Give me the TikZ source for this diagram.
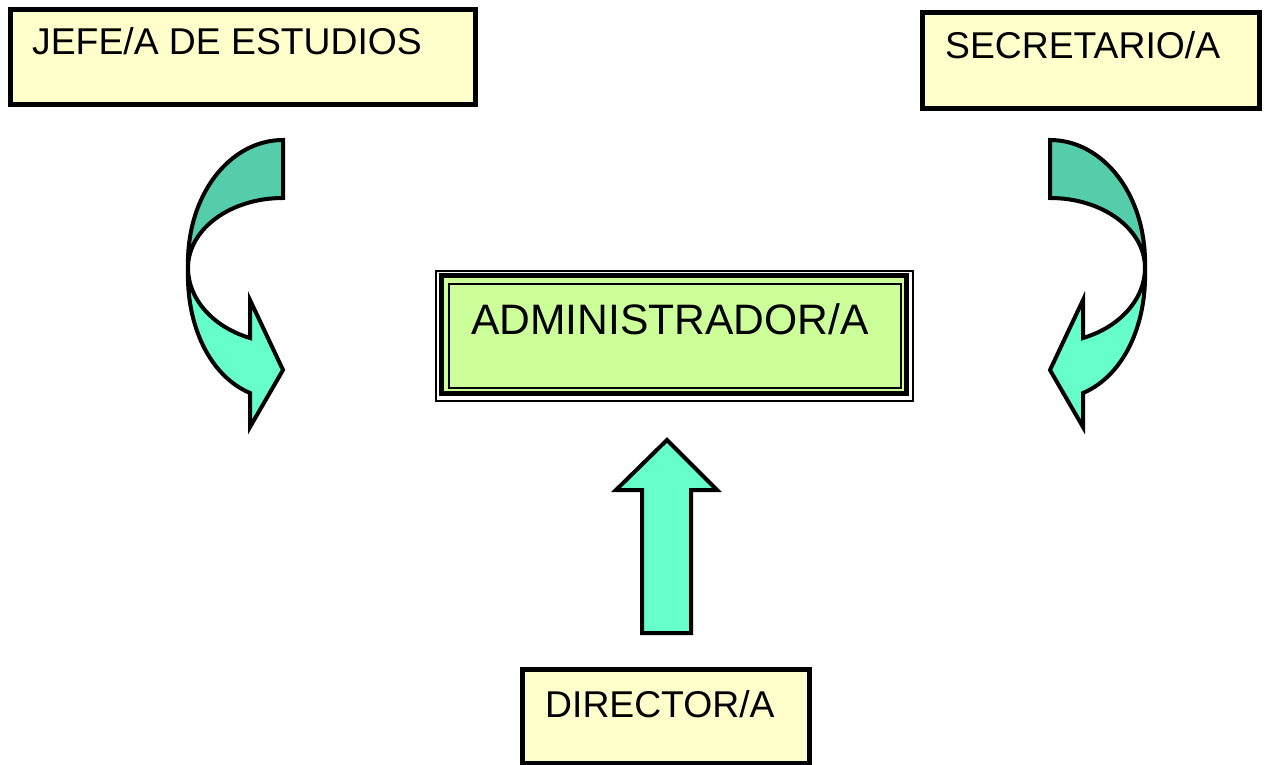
\documentclass[tikz,border=0pt]{standalone}
\usepackage{fontspec}
\setmainfont{Liberation Sans}
\definecolor{boxyellow}{HTML}{FFFFCC}
\definecolor{admingreen}{HTML}{CCFF99}
\definecolor{banddark}{HTML}{55CCAA}
\definecolor{bandlight}{HTML}{66FFCC}
\newcommand\CurvArrowShape{%
  \path[banddarkstyle] (283,140) -- (283,198) .. controls (230.5,198) and (188,229) .. (188,268)
     .. controls (186,195) and (230,140) .. (283,140) -- cycle;
  \path[bandlightstyle] (188,268) .. controls (186,326) and (210,376) .. (250,393)
     -- (250,427) -- (283,370) -- (250,300) -- (250,338)
     .. controls (213,327) and (188,299) .. (188,268) -- cycle;
}
\begin{document}
\begin{tikzpicture}[x=1pt,y=-1pt,
  rolebox/.style={draw=black,line width=5pt,fill=boxyellow,inner sep=0pt},
  roletext/.style={anchor=base west,inner sep=0pt,font=\fontsize{37.3}{44}\selectfont},
  banddarkstyle/.style={draw=black,line width=4pt,fill=banddark,line join=miter},
  bandlightstyle/.style={draw=black,line width=4pt,fill=bandlight,line join=miter},
  uparrowstyle/.style={draw=black,line width=4pt,fill=bandlight,line join=miter}]
\useasboundingbox[fill=white] (0,0) rectangle (1264,765);

% role boxes
\node[rolebox,minimum width=464.5pt,minimum height=95pt] (jefebox) at (242.75,57) {};
\node[roletext] (jefe) at (32,55) {JEFE/A DE ESTUDIOS};

\node[rolebox,minimum width=336.5pt,minimum height=96pt] (secbox) at (1090.75,60.5) {};
\node[roletext] (sec) at (945,59) {SECRETARIO/A};

\node[rolebox,minimum width=286.5pt,minimum height=94pt] (dirbox) at (665.75,716.5) {};
\node[roletext] (dir) at (545,717) {DIRECTOR/A};

% administrator box (triple frame)
\node[draw=black,line width=1.5pt,fill=white,minimum width=477pt,minimum height=130pt,inner sep=0pt] (admouter) at (674.5,336) {};
\node[draw=black,line width=5pt,fill=admingreen,minimum width=464.5pt,minimum height=117.5pt,inner sep=0pt] (admbox) at (674,334.5) {};
\node[draw=black,line width=2pt,minimum width=452pt,minimum height=104pt,inner sep=0pt] (adminner) at (675,336) {};
\node[anchor=base west,inner sep=0pt,font=\fontsize{42.6}{50}\selectfont] (adm) at (471,334) {ADMINISTRADOR/A};

% curved arrows
\begin{scope}
  \CurvArrowShape
\end{scope}
\begin{scope}[shift={(1333,0)},xscale=-1]
  \CurvArrowShape
\end{scope}

% straight up arrow
\path[uparrowstyle] (642,633) -- (642,490) -- (616,490) -- (667,440) -- (717,490) -- (691,490) -- (691,633) -- cycle;
\end{tikzpicture}
\end{document}
